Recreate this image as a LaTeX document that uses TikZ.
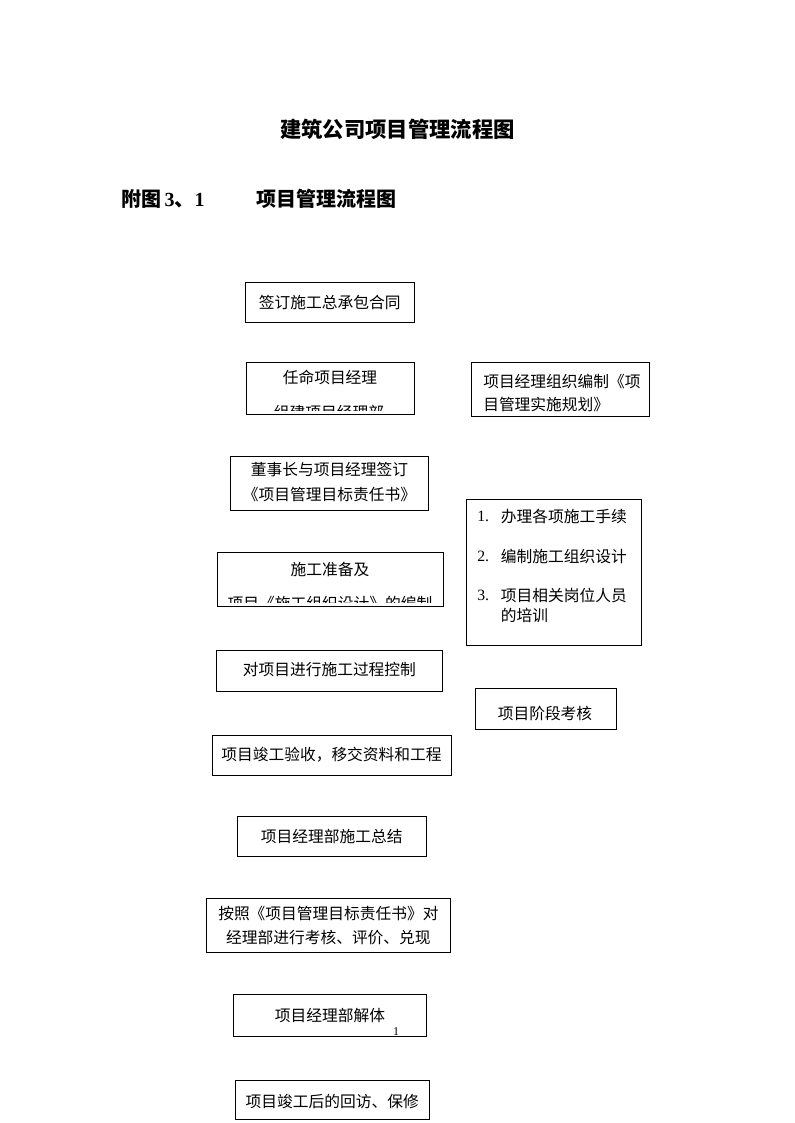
\documentclass[tikz,border=0pt]{standalone}
\usepackage{fontspec}
\newfontfamily\cjk{Noto Sans CJK SC}
\newfontfamily\serif{Liberation Serif}
\begin{document}
\begin{tikzpicture}[x=0.75pt,y=-0.75pt,
  boxst/.style={draw=black,line width=0.75pt,inner sep=0pt,rectangle},
  txt/.style={inner sep=0pt,font=\cjk\fontsize{11.8}{14}\selectfont},
  lft/.style={txt,anchor=west}]
\useasboundingbox (0,0) rectangle (794,1123);
% titles
\node[inner sep=0pt,font=\cjk\bfseries\fontsize{16}{18}\selectfont] (title) at (397.5,129) {建筑公司项目管理流程图};
\node[inner sep=0pt,anchor=west,font=\cjk\bfseries\fontsize{15}{17}\selectfont] (sub1) at (121,198.5) {附图\,{\serif\bfseries 3}、{\serif\bfseries 1}};
\node[inner sep=0pt,anchor=west,font=\cjk\bfseries\fontsize{15}{17}\selectfont] (sub2) at (256,198.5) {项目管理流程图};
% boxes
\node[boxst,minimum width=126.5pt,minimum height=29.7pt] (b1) at (329.7,302.5) {};
\node[boxst,minimum width=126.2pt,minimum height=38.7pt] (b2) at (330.2,388.5) {};
\node[boxst,minimum width=132.8pt,minimum height=40.1pt] (b3) at (560.5,389.3) {};
\node[boxst,minimum width=148.2pt,minimum height=40pt] (b4) at (329.5,483.4) {};
\node[boxst,minimum width=131.8pt,minimum height=109.5pt] (b5) at (553.9,572) {};
\node[boxst,minimum width=169.5pt,minimum height=40.8pt] (b6) at (330.3,579.5) {};
\node[boxst,minimum width=170pt,minimum height=30.75pt] (b7) at (329.4,670.5) {};
\node[boxst,minimum width=106.3pt,minimum height=30.75pt] (b8) at (545.9,708.8) {};
\node[boxst,minimum width=179.3pt,minimum height=30pt] (b9) at (332.2,755) {};
\node[boxst,minimum width=141.5pt,minimum height=29.5pt] (b10) at (331.7,836.4) {};
\node[boxst,minimum width=183.5pt,minimum height=40.5pt] (b11) at (328.4,925.3) {};
\node[boxst,minimum width=145pt,minimum height=31.8pt] (b12) at (330,1015.5) {};
\node[boxst,minimum width=145.7pt,minimum height=29pt] (b13) at (332.2,1100) {};
% texts
\node[txt] (t1) at (329.7,302) {签订施工总承包合同};
\node[txt] (t2) at (330,377.5) {任命项目经理};
\begin{scope}
  \clip (246,362.7) rectangle (414.3,410.5);
  \node[txt] (t2b) at (329,412.5) {组建项目经理部};
\end{scope}
\node[lft] (t3a) at (483,381.7) {项目经理组织编制《项};
\node[lft] (t3b) at (483,404.3) {目管理实施规划》};
\node[txt] (t4a) at (329.5,470) {董事长与项目经理签订};
\node[txt] (t4b) at (329.5,494.3) {《项目管理目标责任书》};
\node[lft,font=\serif\fontsize{11.8}{14}\selectfont] (n1) at (477,516.7) {1.};
\node[lft] (t5a) at (500.7,516.7) {办理各项施工手续};
\node[lft,font=\serif\fontsize{11.8}{14}\selectfont] (n2) at (477,556.7) {2.};
\node[lft] (t5b) at (500.7,556.7) {编制施工组织设计};
\node[lft,font=\serif\fontsize{11.8}{14}\selectfont] (n3) at (477,595) {3.};
\node[lft] (t5c) at (500.7,595) {项目相关岗位人员};
\node[lft] (t5d) at (500.7,615) {的培训};
\node[txt] (t6) at (330,569) {施工准备及};
\begin{scope}
  \clip (217.3,552.3) rectangle (443.3,602);
  \node[txt] (t6b) at (330,603.2) {项目《施工组织设计》的编制};
\end{scope}
\node[txt] (t7) at (329.4,670) {对项目进行施工过程控制};
\node[txt] (t8) at (545,713.3) {项目阶段考核};
\node[txt] (t9) at (331.5,755) {项目竣工验收，移交资料和工程};
\node[txt] (t10) at (331.7,836.7) {项目经理部施工总结};
\node[txt] (t11a) at (328.4,914) {按照《项目管理目标责任书》对};
\node[txt] (t11b) at (328.4,937.7) {经理部进行考核、评价、兑现};
\node[txt] (t12) at (330,1015.7) {项目经理部解体};
\node[inner sep=0pt,font=\serif\fontsize{9}{10}\selectfont] (pg) at (396,1031.5) {1};
\node[txt] (t13) at (332.2,1101.7) {项目竣工后的回访、保修};
\end{tikzpicture}
\end{document}
